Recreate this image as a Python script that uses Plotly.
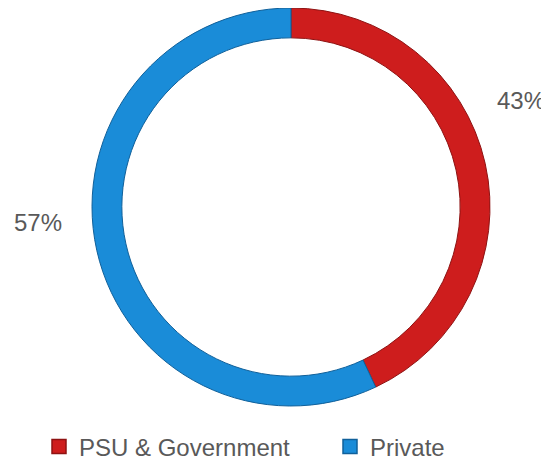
import plotly.graph_objects as go

categories = ["PSU & Government", "Private"]
values = [43, 57]
colors = ["#CE1D1D", "#1A8CD8"]
edge_colors = ["#8E1212", "#10609A"]

total = sum(values)
pct_text = [f"{round(v / total * 100)}%" for v in values]

W, H = 549, 464
OFF = 8  # page body margin offset

fig = go.Figure()
fig.add_trace(go.Pie(
    labels=categories,
    values=values,
    hole=0.85,
    sort=False,
    direction="clockwise",
    rotation=0,
    marker=dict(colors=colors, line=dict(color=edge_colors, width=1)),
    textinfo="none",
    hoverinfo="label+percent",
    showlegend=False,
    domain=dict(x=[(92 - OFF) / W, (490 - OFF) / W], y=[1 - (406 - OFF) / H, 1]),
))

legend_names = ["legend", "legend2"]
for cat, col, ec, lg in zip(categories, colors, edge_colors, legend_names):
    fig.add_trace(go.Scatter(
        x=[None], y=[None], mode="markers", name=cat, legend=lg,
        marker=dict(symbol="square", size=14, color=col, line=dict(color=ec, width=1.5)),
        showlegend=True, hoverinfo="skip",
    ))

label_pos = [(521, 100), (38, 222)]
for txt, (px, py) in zip(pct_text, label_pos):
    fig.add_annotation(
        x=(px - OFF) / W, y=1 - (py - OFF) / H, xref="paper", yref="paper",
        text=txt, showarrow=False,
        font=dict(family="Liberation Sans", size=24, color="#595959"),
        xanchor="center", yanchor="middle",
    )

leg_font = dict(family="Liberation Sans", size=24, color="#595959")
leg_y = 1 - (447 - OFF) / H
fig.update_layout(
    width=W, height=H,
    margin=dict(l=0, r=0, t=0, b=0),
    paper_bgcolor="white", plot_bgcolor="white",
    xaxis=dict(visible=False), yaxis=dict(visible=False),
    showlegend=True,
    legend=dict(orientation="h", x=(77 - 38 - OFF) / W, xanchor="left",
                y=leg_y, yanchor="middle", font=leg_font,
                itemwidth=30, bgcolor="rgba(0,0,0,0)"),
    legend2=dict(orientation="h", x=(368 - 38 - OFF) / W, xanchor="left",
                 y=leg_y, yanchor="middle", font=leg_font,
                 itemwidth=30, bgcolor="rgba(0,0,0,0)"),
)

fig.write_html("out.html")
